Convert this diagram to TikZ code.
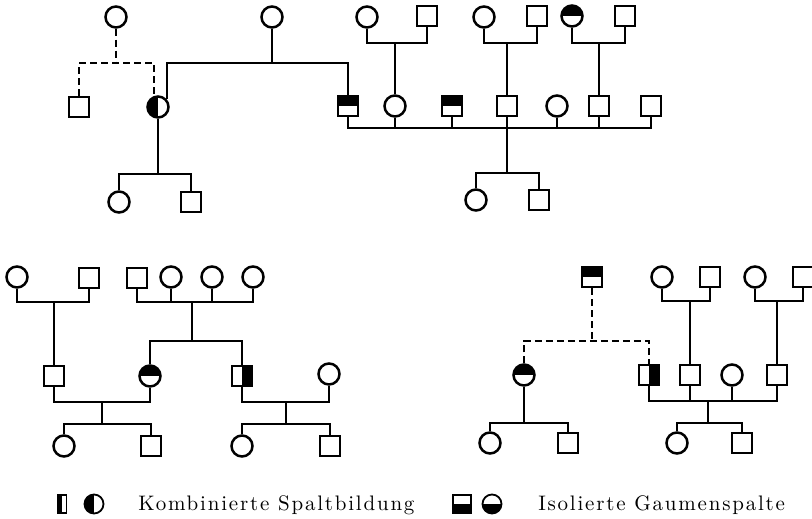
\documentclass[tikz,border=0pt]{standalone}
\usepackage{fontspec}
\setmainfont{lmroman10-regular}[Extension=.otf]
\begin{document}
\begin{tikzpicture}[x=1pt,y=-1pt,line width=2.5pt,
    fem/.style={circle,draw,minimum size=21pt,inner sep=0pt},
    mal/.style={rectangle,draw,minimum size=20pt,inner sep=0pt},
    topblack/.style={path picture={\fill (path picture bounding box.north west) rectangle (path picture bounding box.east);}},
    botblack/.style={path picture={\fill (path picture bounding box.west) rectangle (path picture bounding box.south east);}},
    leftblack/.style={path picture={\fill (path picture bounding box.north west) rectangle (path picture bounding box.south);}},
    rightblack/.style={path picture={\fill (path picture bounding box.north) rectangle (path picture bounding box.south east);}},
    dashline/.style={dash pattern=on 7pt off 4pt},
    legtext/.style={anchor=base west,inner sep=0pt,font=\fontsize{21}{25}\selectfont\addfontfeature{LetterSpace=8.5}}]

    \useasboundingbox (0,0) rectangle (812,519);

    % upper pedigree
    \node[fem] at (116,17) (gA) {};
    \node[fem] at (272,17) (gB) {};
    \node[mal] at (79,107) (sA1) {};
    \node[fem,leftblack] at (158,107) (hc1) {};
    \node[fem] at (119,202) (cA1) {};
    \node[mal] at (191,202) (sA2) {};

    \node[fem] at (367,17) (fP1) {};
    \node[mal] at (427,16) (mP1) {};
    \node[fem] at (484,17) (fP2) {};
    \node[mal] at (537,16) (mP2) {};
    \node[fem,topblack] at (572,16) (hP3) {};
    \node[mal] at (625,16) (mP3) {};

    \node[mal,topblack] at (348,106) (h1) {};
    \node[fem] at (395,106) (c2) {};
    \node[mal,topblack] at (452,106) (h2) {};
    \node[mal] at (507,106) (s3) {};
    \node[fem] at (557,106) (c5) {};
    \node[mal] at (599,106) (s4) {};
    \node[mal] at (651,106) (s6) {};
    \node[fem] at (476,200) (cD1) {};
    \node[mal] at (539,200) (sD2) {};

    \coordinate (jA) at (116,63);
    \coordinate (jB) at (272,63);
    \coordinate (jC) at (158,174);
    \coordinate (jP1) at (395,43);
    \coordinate (jP2) at (507,43);
    \coordinate (jP3) at (599,43);
    \coordinate (jS) at (507,128);
    \coordinate (jD) at (507,173);

    \draw[dashline] (gA) -- (jA);
    \draw[dashline] (sA1) |- (jA) -| (hc1.110);
    \draw (gB) -- (jB);
    \draw (hc1.40) |- (jB) -| (h1);
    \draw (hc1) -- (jC);
    \draw (cA1) |- (jC) -| (sA2);

    \draw (fP1) |- (jP1) -| (mP1);
    \draw (jP1) -- (c2);
    \draw (fP2) |- (jP2) -| (mP2);
    \draw (jP2) -- (s3);
    \draw (hP3) |- (jP3) -| (mP3);
    \draw (jP3) -- (s4);

    \draw (h1) |- (jS) -| (s6);
    \foreach \n in {c2,h2,s3,c5,s4}
        \draw (\n) -- (\n |- jS);
    \draw (jS) -- (jD);
    \draw (cD1) |- (jD) -| (sD2);

    % lower left pedigree
    \node[fem] at (17,277) (fQ1) {};
    \node[mal] at (89,278) (mQ1) {};
    \node[mal] at (137,278) (mQ2) {};
    \node[fem] at (171,277) (fQ3) {};
    \node[fem] at (212,277) (fQ4) {};
    \node[fem] at (253,277) (fQ5) {};
    \node[mal] at (54,376) (sQ) {};
    \node[fem,topblack] at (150,376) (hQ) {};
    \node[mal,rightblack] at (242,376) (kQ) {};
    \node[fem] at (329,374) (fQ6) {};
    \node[fem] at (64,446) (cQ1) {};
    \node[mal] at (151,446) (sQ1) {};
    \node[fem] at (242,446) (cQ2) {};
    \node[mal] at (330,446) (sQ2) {};

    \coordinate (jQ1) at (54,302);
    \coordinate (jQ2) at (192,302);
    \coordinate (jQ3) at (192,341);
    \coordinate (jQ4) at (102,402);
    \coordinate (jQ5) at (102,424);
    \coordinate (jQ6) at (286,402);
    \coordinate (jQ7) at (286,424);

    \draw (fQ1) |- (jQ1) -| (mQ1);
    \draw (jQ1) -- (sQ);
    \draw (mQ2) |- (jQ2) -| (fQ5);
    \draw (fQ3) -- (fQ3 |- jQ2);
    \draw (fQ4) -- (fQ4 |- jQ2);
    \draw (jQ2) -- (jQ3);
    \draw (hQ) |- (jQ3) -| (kQ);
    \draw (sQ) |- (jQ4) -| (hQ);
    \draw (jQ4) -- (jQ5);
    \draw (cQ1) |- (jQ5) -| (sQ1);
    \draw (kQ) |- (jQ6) -| (fQ6);
    \draw (jQ6) -- (jQ7);
    \draw (cQ2) |- (jQ7) -| (sQ2);

    % lower right pedigree
    \node[mal,topblack] at (592,277) (hR) {};
    \node[fem] at (662,277) (fR1) {};
    \node[mal] at (710,277) (mR1) {};
    \node[fem] at (755,277) (fR2) {};
    \node[mal] at (803,277) (mR2) {};
    \node[fem,topblack] at (524,375) (hR2) {};
    \node[mal,rightblack] at (649,375) (kR) {};
    \node[mal] at (690,375) (sR1) {};
    \node[fem] at (732,375) (fR3) {};
    \node[mal] at (777,375) (sR2) {};
    \node[fem] at (490,443) (cR2) {};
    \node[mal] at (568,443) (sR4) {};
    \node[fem] at (677,443) (cR1) {};
    \node[mal] at (742,443) (sR3) {};

    \coordinate (jR1) at (592,341);
    \coordinate (jR2) at (690,301);
    \coordinate (jR3) at (777,301);
    \coordinate (jR4) at (708,401);
    \coordinate (jR5) at (708,423);
    \coordinate (jR6) at (524,423);

    \draw[dashline] (hR) -- (jR1);
    \draw[dashline] (hR2) |- (jR1) -| (kR);
    \draw (fR1) |- (jR2) -| (mR1);
    \draw (jR2) -- (sR1);
    \draw (fR2) |- (jR3) -| (mR2);
    \draw (jR3) -- (sR2);
    \draw (kR) |- (jR4) -| (sR2);
    \draw (sR1) -- (sR1 |- jR4);
    \draw (fR3) -- (fR3 |- jR4);
    \draw (jR4) -- (jR5);
    \draw (cR1) |- (jR5) -| (sR3);
    \draw (hR2) -- (jR6);
    \draw (cR2) |- (jR6) -| (sR4);

    % legend
    \node[mal,leftblack,minimum width=9pt,minimum height=18pt,line width=1.8pt] at (62,504) (lgA) {};
    \node[fem,leftblack,minimum size=19pt,line width=1.8pt] at (94,504) (lgB) {};
    \node[legtext] at (137,510) (lgT1) {Kombinierte Spaltbildung};
    \node[mal,botblack,minimum size=18pt,line width=1.8pt] at (462,504) (lgC) {};
    \node[fem,botblack,minimum size=19pt,line width=1.8pt] at (492,504) (lgD) {};
    \node[legtext] at (537,510) (lgT2) {Isolierte Gaumenspalte};
\end{tikzpicture}
\end{document}
